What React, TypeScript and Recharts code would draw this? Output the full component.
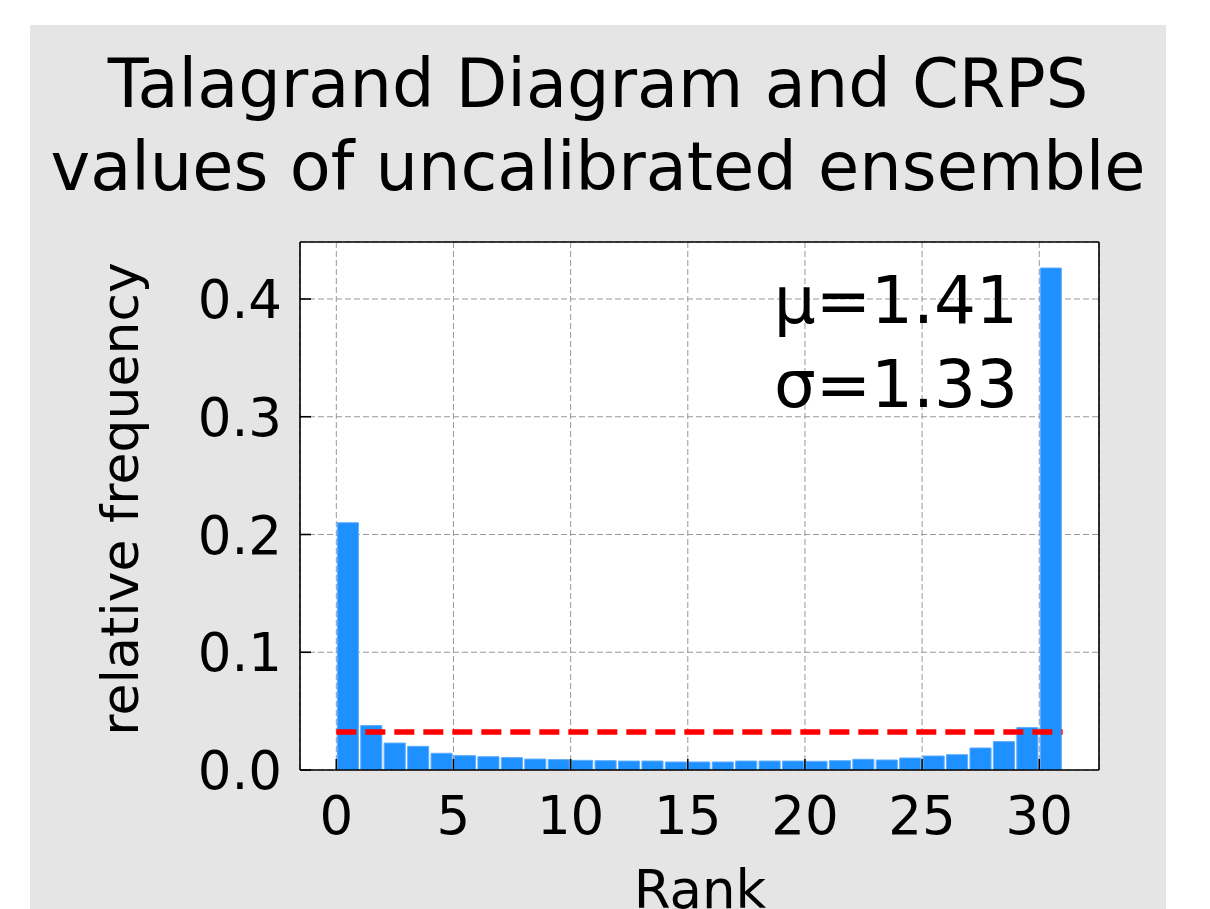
import React from 'react';
import {
  ComposedChart,
  Bar,
  XAxis,
  YAxis,
  CartesianGrid,
  ReferenceLine,
} from 'recharts';

// rank histogram of the uncalibrated ensemble (31 ranks)
const ranks = [
  0, 1, 2, 3, 4, 5, 6, 7, 8, 9, 10, 11, 12, 13, 14, 15,
  16, 17, 18, 19, 20, 21, 22, 23, 24, 25, 26, 27, 28, 29, 30,
];
const freqs = [
  0.21, 0.0377, 0.0229, 0.0201, 0.0142, 0.0122, 0.0113, 0.0105, 0.0093, 0.0088, 0.0082,
  0.0079, 0.0076, 0.0076, 0.0068, 0.0068, 0.0068, 0.0076, 0.0076, 0.0076, 0.0074,
  0.0079, 0.0091, 0.0085, 0.0102, 0.0119, 0.013, 0.0187, 0.0241, 0.036, 0.4263,
];
const xTicks = [0, 5, 10, 15, 20, 25, 30];
const yTicks = [0, 0.1, 0.2, 0.3, 0.4];
const uniformLevel = 1 / 31;
const titleLines = ['Talagrand Diagram and CRPS', 'values of uncalibrated ensemble'];
const statLines = ['μ=1.41', 'σ=1.33'];

const data = ranks.map((r, i) => ({ rank: r, mid: r + 0.5, freq: freqs[i] }));

const W = 1136;
const H = 884;
const xAxisH = 60;
const topAxisH = 2;
const rightAxisW = 2;
const margin = { top: 217 - topAxisH, right: 67 - rightAxisW, bottom: 139 - xAxisH, left: 0 };
const yAxisW = 270;
const xDomain: [number, number] = [-1.55, 32.55];
const yDomain: [number, number] = [0, 0.4484];
const plotLeft = margin.left + yAxisW;
const plotTop = margin.top + topAxisH;
const plotW = W - margin.right - rightAxisW - plotLeft;
const plotH = H - plotTop - margin.bottom - xAxisH;
const barW = plotW / (xDomain[1] - xDomain[0]);

const FONT = '"DejaVu Sans", Verdana, sans-serif';
const Y_MARGIN = 18;
const X_MARGIN = 26;
const AXIS = { stroke: '#000', strokeWidth: 1.6 };

const YTick = (props: any) => {
  const { x, y, payload } = props;
  const ax = x + Y_MARGIN;
  return (
    <g>
      <line x1={ax} x2={ax + 11} y1={y} y2={y} stroke="#000" strokeWidth={1.6} />
      <text x={x} y={y} dy="0.36em" textAnchor="end" fontSize={53} fontFamily={FONT} fill="#000">
        {Number(payload.value).toFixed(1)}
      </text>
    </g>
  );
};

const XTick = (props: any) => {
  const { x, y, payload } = props;
  const ay = y - X_MARGIN;
  return (
    <g>
      <line x1={x} x2={x} y1={ay} y2={ay - 11} stroke="#000" strokeWidth={1.6} />
      <text x={x} y={y} dy="0.71em" textAnchor="middle" fontSize={53} fontFamily={FONT} fill="#000">
        {payload.value}
      </text>
    </g>
  );
};

export default function App() {
  return (
    <div
      style={{
        position: 'fixed',
        left: 30,
        top: 25,
        width: W,
        height: H,
        background: '#e5e5e5',
        overflow: 'hidden',
      }}
    >
      {/* white axes background */}
      <div
        style={{
          position: 'absolute',
          left: plotLeft,
          top: plotTop,
          width: plotW,
          height: plotH,
          background: '#fff',
        }}
      />
      <div style={{ position: 'absolute', left: 0, top: 0 }}>
        <ComposedChart width={W} height={H} data={data} margin={margin}>
          <CartesianGrid stroke="#999" strokeDasharray="6 3" strokeWidth={1} />
          <Bar
            dataKey="freq"
            fill="#1e90ff"
            stroke="#5cadff"
            strokeWidth={1}
            barSize={barW}
            isAnimationActive={false}
          />
          <ReferenceLine
            segment={[
              { x: 0, y: uniformLevel },
              { x: 31, y: uniformLevel },
            ]}
            stroke="#ff0000"
            strokeWidth={5.5}
            strokeDasharray="20 9"
          />
          <XAxis
            dataKey="mid"
            type="number"
            domain={xDomain}
            allowDataOverflow
            ticks={xTicks}
            interval={0}
            height={xAxisH}
            tickSize={0}
            tickLine={false}
            tickMargin={X_MARGIN}
            tick={<XTick />}
            stroke="#000"
            axisLine={AXIS}
          />
          <XAxis
            xAxisId="top"
            orientation="top"
            type="number"
            domain={xDomain}
            allowDataOverflow
            height={topAxisH}
            tick={false}
            tickLine={false}
            stroke="#000"
            axisLine={AXIS}
          />
          <YAxis
            type="number"
            domain={yDomain}
            allowDataOverflow
            ticks={yTicks}
            interval={0}
            width={yAxisW}
            tickSize={0}
            tickLine={false}
            tickMargin={Y_MARGIN}
            tick={<YTick />}
            stroke="#000"
            axisLine={AXIS}
          />
          <YAxis
            yAxisId="right"
            orientation="right"
            type="number"
            domain={[0, 1]}
            width={rightAxisW}
            tick={false}
            tickLine={false}
            stroke="#000"
            axisLine={AXIS}
          />
        </ComposedChart>
      </div>
      <svg
        width={W}
        height={H}
        style={{ position: 'absolute', left: 0, top: 0, pointerEvents: 'none' }}
        fontFamily={FONT}
      >
        {titleLines.map((t, i) => (
          <text key={t} x={568} y={82 + i * 83} textAnchor="middle" fontSize={67} fill="#000">
            {t}
          </text>
        ))}
        {statLines.map((t, i) => (
          <text key={t} x={988} y={298 + i * 84} textAnchor="end" fontSize={66} fill="#000">
            {t}
          </text>
        ))}
        <text
          transform="translate(108,474) rotate(-90)"
          textAnchor="middle"
          fontSize={52}
          fill="#000"
        >
          relative frequency
        </text>
        <text x={670} y={883} textAnchor="middle" fontSize={53} fill="#000">
          Rank
        </text>
      </svg>
    </div>
  );
}
